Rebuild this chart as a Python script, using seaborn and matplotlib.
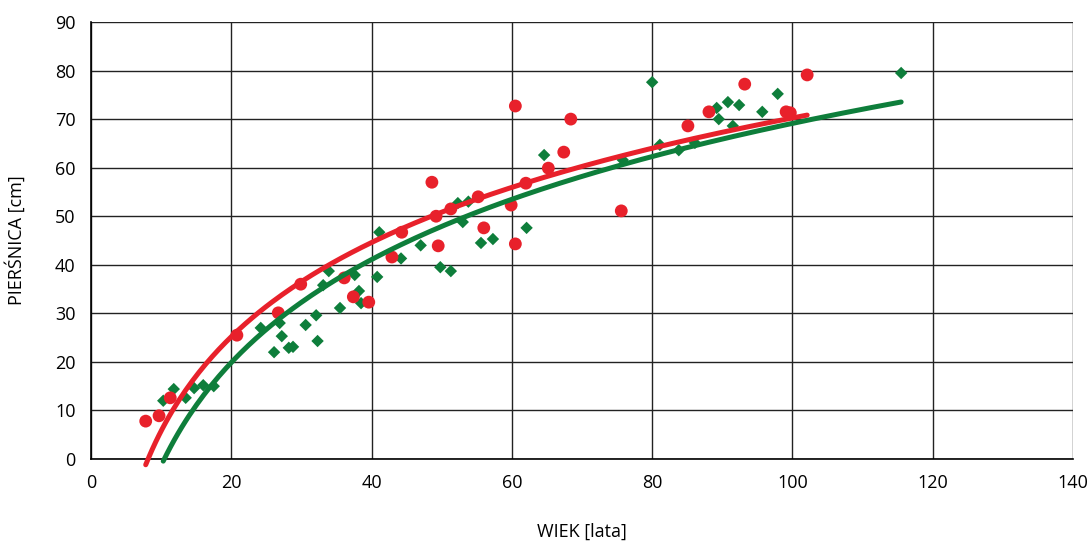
import numpy as np
import pandas as pd
import matplotlib
matplotlib.use("Agg")
import matplotlib.pyplot as plt
import seaborn as sns

# Age (years) and breast-height diameter (cm), two tree groups
red_age = [7.8, 9.7, 11.3, 20.8, 26.7, 29.9, 36.1, 37.4, 39.6, 42.9, 44.3,
           48.6, 49.2, 49.5, 51.3, 55.2, 56.0, 59.9, 60.5, 60.5, 62.0, 65.2,
           67.4, 68.4, 75.6, 85.1, 88.1, 93.2, 99.1, 99.7, 102.1]
red_dbh = [7.8, 8.9, 12.6, 25.5, 30.1, 36.0, 37.3, 33.4, 32.3, 41.6, 46.7,
           57.0, 50.0, 43.9, 51.5, 54.0, 47.6, 52.3, 44.3, 72.7, 56.8, 59.9,
           63.2, 70.0, 51.1, 68.6, 71.5, 77.2, 71.5, 71.3, 79.1]

green_age = [10.3, 11.8, 13.5, 14.7, 16.0, 17.5, 24.2, 26.1, 26.9, 27.2,
             28.2, 28.8, 30.6, 32.1, 32.3, 33.1, 33.9, 35.5, 37.6, 38.2,
             38.5, 40.8, 41.1, 44.2, 47.0, 49.8, 51.3, 52.3, 53.0, 53.8,
             55.6, 57.3, 62.1, 64.6, 75.8, 80.0, 81.1, 83.8, 86.1, 89.2,
             89.5, 90.8, 91.5, 92.4, 95.7, 97.9, 115.5]
green_dbh = [12.0, 14.4, 12.6, 14.6, 15.2, 15.0, 27.0, 22.0, 28.0, 25.3,
             22.9, 23.1, 27.6, 29.6, 24.3, 35.8, 38.7, 31.1, 37.9, 34.6,
             32.1, 37.5, 46.7, 41.3, 44.0, 39.5, 38.7, 52.7, 48.8, 53.0,
             44.5, 45.3, 47.6, 62.6, 61.6, 77.6, 64.7, 63.6, 65.1, 72.3,
             70.0, 73.5, 68.6, 72.9, 71.5, 75.2, 79.5]

# Logarithmic trend lines y = a*ln(x) + b
red_trend = (28.0, -58.7)
green_trend = (30.6, -71.8)

x_ticks = [0, 20, 40, 60, 80, 100, 120, 140]
y_ticks = [0, 10, 20, 30, 40, 50, 60, 70, 80, 90]

RED = "#E8212B"
GREEN = "#0E7E3B"


def log_trend(age, coef, n=200):
    """Evaluate the logarithmic trend over the span of the data."""
    a, b = coef
    xs = np.linspace(min(age), max(age), n)
    return pd.DataFrame({"age": xs, "dbh": a * np.log(xs) + b})


sns.set_theme(style="white")
plt.rcParams["font.family"] = ["Open Sans", "DejaVu Sans"]

fig = plt.figure(figsize=(10.91, 5.42), dpi=100)
ax = fig.add_axes([91 / 1091, 1 - 459 / 542, (1073 - 91) / 1091, (459 - 22) / 542])

red_df = pd.DataFrame({"age": red_age, "dbh": red_dbh})
green_df = pd.DataFrame({"age": green_age, "dbh": green_dbh})

sns.scatterplot(data=green_df, x="age", y="dbh", marker="D", s=40,
                color=GREEN, edgecolor="none", ax=ax, zorder=3)
sns.scatterplot(data=red_df, x="age", y="dbh", marker="o", s=85,
                color=RED, edgecolor="none", ax=ax, zorder=4)

sns.lineplot(data=log_trend(green_age, green_trend), x="age", y="dbh",
             color=GREEN, linewidth=3.6, ax=ax, zorder=5)
sns.lineplot(data=log_trend(red_age, red_trend), x="age", y="dbh",
             color=RED, linewidth=3.6, ax=ax, zorder=6)
for line in ax.lines:
    line.set_clip_on(False)
    line.set_solid_capstyle("round")

ax.set_xlim(0, 140)
ax.set_ylim(0, 90)
ax.set_xticks(x_ticks)
ax.set_yticks(y_ticks)
ax.set_xticklabels([str(v) for v in x_ticks], fontsize=13)
ax.set_yticklabels([str(v) for v in y_ticks], fontsize=13)
ax.grid(True, color="#222222", linewidth=1.0)
ax.set_axisbelow(True)

for side in ["top", "right"]:
    ax.spines[side].set_visible(False)
for side in ["left", "bottom"]:
    ax.spines[side].set_color("black")
    ax.spines[side].set_linewidth(1.2)

ax.tick_params(axis="both", direction="out", length=6, width=1,
               color="black", labelcolor="black", pad=5)

ax.set_xlabel("WIEK [lata]", fontsize=13, color="black", labelpad=22)
ax.set_ylabel("PIERŚNICA [cm]", fontsize=13, color="black", labelpad=21)

fig.savefig("out.png", dpi=100, facecolor="white")
